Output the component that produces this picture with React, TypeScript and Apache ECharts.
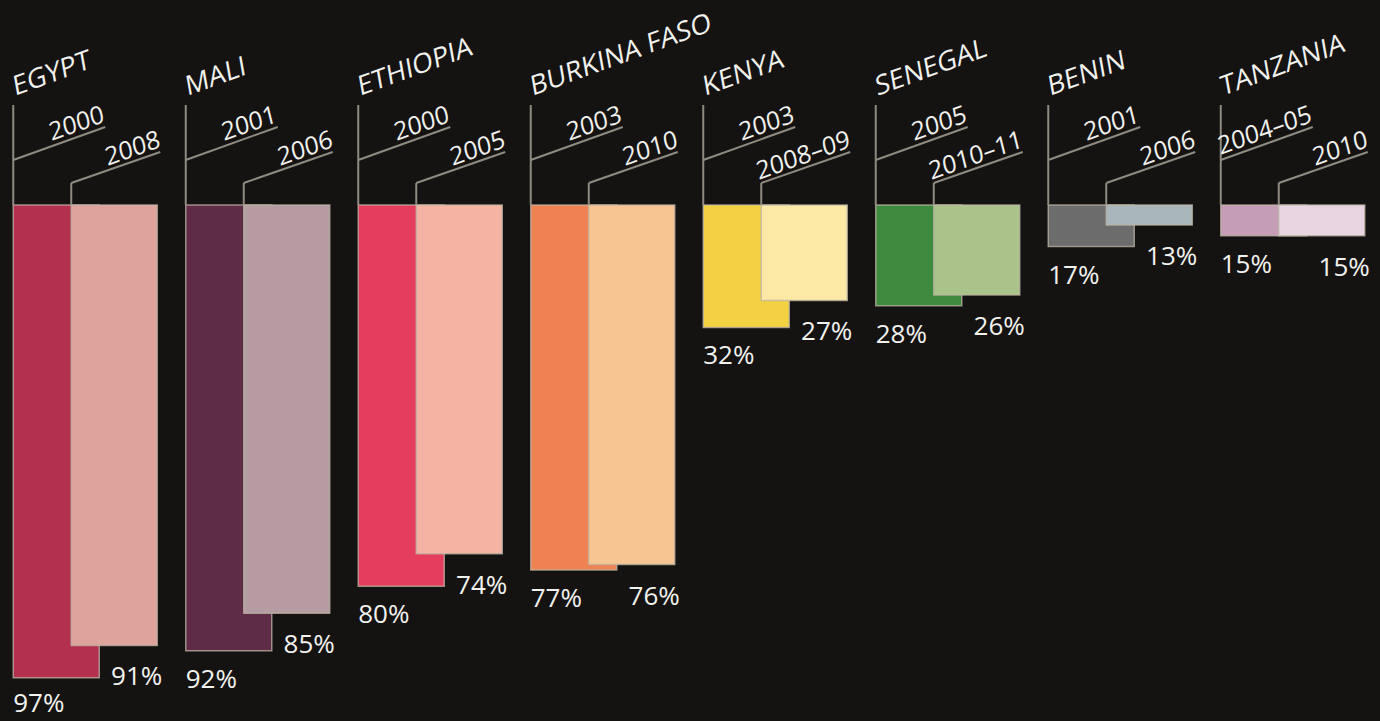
import React, { useEffect, useRef } from 'react';
import * as echarts from 'echarts';

const countries = ['EGYPT', 'MALI', 'ETHIOPIA', 'BURKINA FASO', 'KENYA', 'SENEGAL', 'BENIN', 'TANZANIA'];
const firstYears = ['2000', '2001', '2000', '2003', '2003', '2005', '2001', '2004–05'];
const secondYears = ['2008', '2006', '2005', '2010', '2008–09', '2010–11', '2006', '2010'];
const firstValues = [97, 92, 80, 77, 32, 28, 17, 15];
const secondValues = [91, 85, 74, 76, 27, 26, 13, 15];
const firstColors = ['#b3304f', '#5e2c47', '#e53e5c', '#ee8250', '#f4d141', '#3c8b3e', '#6c6c6c', '#c69db6'];
const secondColors = ['#dea39a', '#b59ca2', '#f5b3a3', '#f7c592', '#fce9a6', '#a9c38a', '#a9b6bb', '#e9d5e1'];

const Y_MIN = 9.3;
const Y_MAX = 100;

const BG = '#151312';
const LINE = '#8f8b80';
const TEXT = '#f2f2ee';
const FONT = 'Open Sans';
const WEIGHT = 500;
const THETA = Math.atan2(33, 92);
const DEG = Math.PI / 180;
const H = 721;

function yearLabel(text: string, ex: number, ey: number) {
  const off = 3;
  return {
    type: 'text',
    x: ex - Math.sin(THETA) * off + 2,
    y: ey - Math.cos(THETA) * off,
    rotation: 14 * DEG,
    skewY: THETA - 14 * DEG,
    style: {
      text,
      x: 0,
      y: 0,
      align: 'right',
      verticalAlign: 'bottom',
      fill: TEXT,
      fontSize: 25,
      fontWeight: WEIGHT,
      fontFamily: FONT,
    },
  };
}

export default function App() {
  const ref = useRef<HTMLDivElement>(null);
  useEffect(() => {
    if (!ref.current) return;
    const chart = echarts.init(ref.current, null, { renderer: 'svg' });

    const renderFirst = (params: any, api: any) => {
      const i = api.value(0);
      const v = api.value(1);
      const [cx, top] = api.coord([i, Y_MIN]);
      const [, bot] = api.coord([i, v]);
      const x0 = cx - 73;
      const w = 86;
      return {
        type: 'group',
        children: [
          {
            type: 'rect',
            shape: { x: x0, y: top, width: w, height: bot - top },
            style: { fill: firstColors[i], stroke: 'rgba(190,180,165,0.75)', lineWidth: 1.5 },
          },
          {
            type: 'line',
            shape: { x1: x0, y1: top - 100, x2: x0, y2: top },
            style: { stroke: LINE, lineWidth: 2 },
          },
          {
            type: 'line',
            shape: { x1: x0, y1: top - 45, x2: x0 + 92, y2: top - 78 },
            style: { stroke: LINE, lineWidth: 2 },
          },
          yearLabel(firstYears[i], x0 + 92, top - 78),
          {
            type: 'text',
            x: x0 + 2,
            y: top - 106,
            rotation: 10 * DEG,
            skewY: 10 * DEG,
            style: {
              text: countries[i],
              x: 0,
              y: 0,
              align: 'left',
              verticalAlign: 'bottom',
              fill: TEXT,
              fontSize: 27,
              fontWeight: WEIGHT,
              fontFamily: FONT,
            },
          },
          {
            type: 'text',
            x: x0,
            y: Math.min(bot + 27, H - 19),
            style: {
              text: v + '%',
              align: 'left',
              verticalAlign: 'middle',
              lineHeight: 26,
              fill: TEXT,
              fontSize: 26,
              fontWeight: WEIGHT,
              fontFamily: FONT,
            },
          },
        ],
      };
    };

    const renderSecond = (params: any, api: any) => {
      const i = api.value(0);
      const v = api.value(1);
      const [cx, top] = api.coord([i, Y_MIN]);
      const [, bot] = api.coord([i, v]);
      const x0 = cx - 73 + 58;
      const w = 86;
      return {
        type: 'group',
        children: [
          {
            type: 'rect',
            shape: { x: x0, y: top, width: w, height: bot - top },
            style: { fill: secondColors[i], stroke: 'rgba(190,180,165,0.75)', lineWidth: 1.5 },
          },
          {
            type: 'line',
            shape: { x1: x0, y1: top - 22, x2: x0, y2: top },
            style: { stroke: LINE, lineWidth: 2 },
          },
          {
            type: 'line',
            shape: { x1: x0, y1: top - 22, x2: x0 + 89, y2: top - 53 },
            style: { stroke: LINE, lineWidth: 2 },
          },
          yearLabel(secondYears[i], x0 + 90, top - 53),
          {
            type: 'text',
            x: x0 + w + 5,
            y: bot + 30,
            style: {
              text: v + '%',
              align: 'right',
              verticalAlign: 'middle',
              lineHeight: 26,
              fill: TEXT,
              fontSize: 26,
              fontWeight: WEIGHT,
              fontFamily: FONT,
            },
          },
        ],
      };
    };

    chart.setOption({
      animation: false,
      backgroundColor: BG,
      grid: { left: 0, right: 0, top: 205, bottom: 27 },
      xAxis: { type: 'category', data: countries, show: false },
      yAxis: { type: 'value', inverse: true, min: Y_MIN, max: Y_MAX, show: false },
      series: [
        {
          type: 'custom',
          name: 'First survey',
          data: firstValues.map((v, i) => [i, v]),
          encode: { x: 0, y: 1 },
          renderItem: renderFirst,
          clip: false,
        },
        {
          type: 'custom',
          name: 'Second survey',
          data: secondValues.map((v, i) => [i, v]),
          encode: { x: 0, y: 1 },
          renderItem: renderSecond,
          clip: false,
        },
      ],
    });
    return () => chart.dispose();
  }, []);
  return (
    <div
      ref={ref}
      style={{ position: 'fixed', left: 0, top: 0, width: 1380, height: 721, background: BG }}
    />
  );
}
